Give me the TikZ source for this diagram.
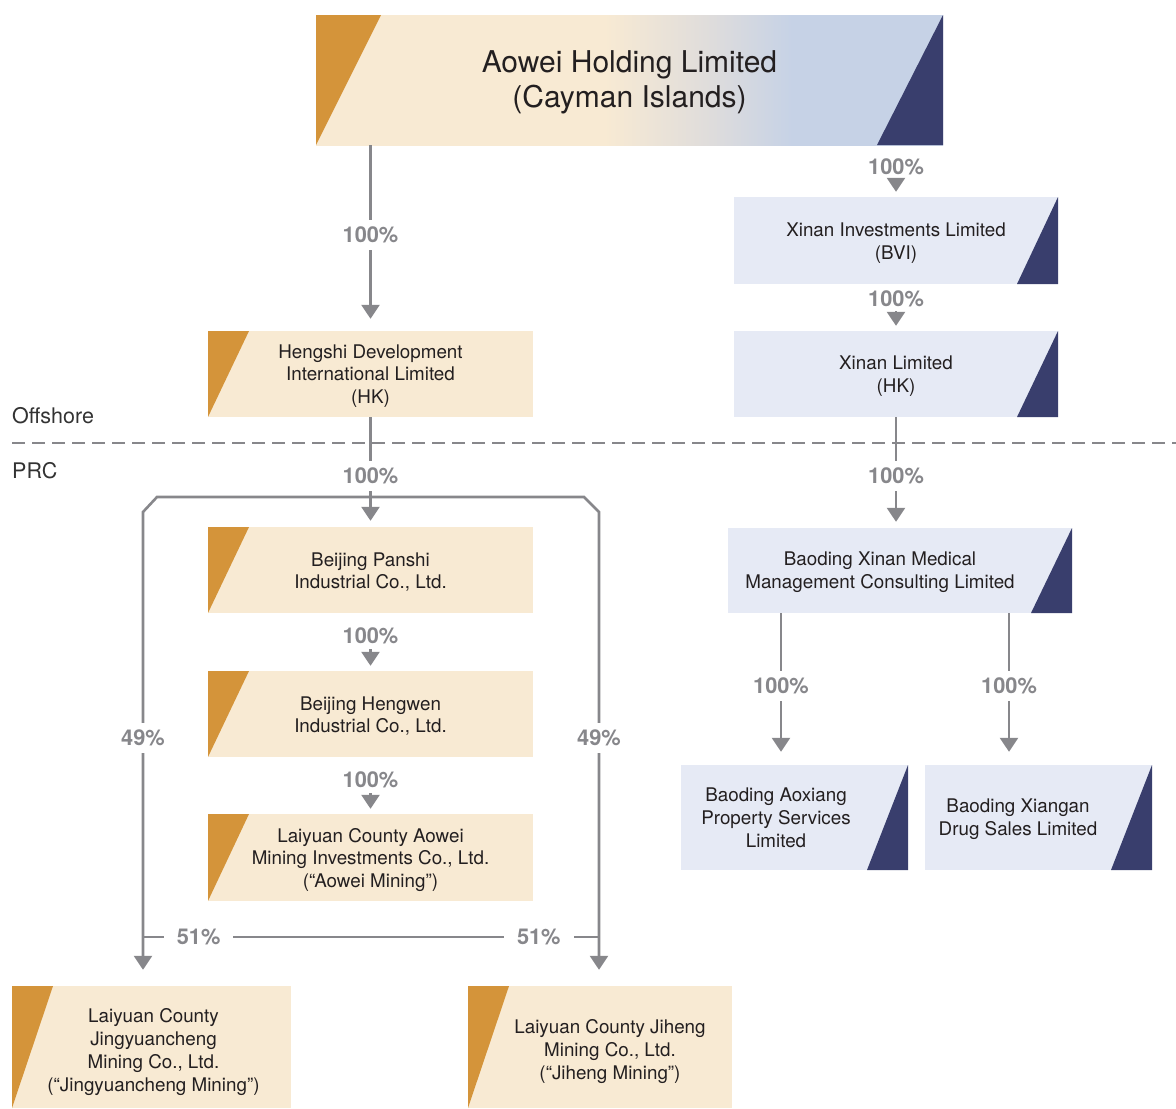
\documentclass[tikz,border=0pt]{standalone}
\usepackage{fontspec}
\setmainfont{TeX Gyre Heros}
\usetikzlibrary{calc,arrows.meta}

\definecolor{goldc}{HTML}{D4943A}
\definecolor{creamc}{HTML}{F8EAD3}
\definecolor{navyc}{HTML}{393E6D}
\definecolor{paleblue}{HTML}{E6EAF5}
\definecolor{topblue}{HTML}{C6D2E6}
\definecolor{midgrey}{HTML}{E0DDDB}
\definecolor{linec}{HTML}{87878B}
\definecolor{inkc}{HTML}{231F20}
\definecolor{zonec}{HTML}{333333}

\pgfdeclarehorizontalshading{aoweigrad}{100bp}{color(0bp)=(creamc); color(48bp)=(creamc); color(56bp)=(midgrey); color(63bp)=(topblue); color(100bp)=(topblue)}

\tikzset{
    boxtxt/.style = {text = inkc, align = center, inner sep = 0pt, yshift = -2pt, font = \fontsize{18.8}{22.8}\selectfont},
    boxsize/.style 2 args = {minimum width = #1pt, minimum height = #2pt},
    company/.style = {inner sep = 0pt},
    goldbox/.style = {company, fill = creamc,
        path picture = {\fill[goldc] (path picture bounding box.north west) -- ++(41pt, 0pt) -- (path picture bounding box.south west) -- cycle;}},
    navybox/.style = {company, fill = paleblue,
        path picture = {\fill[navyc] (path picture bounding box.north east) -- (path picture bounding box.south east) -- ++(-41pt, 0pt) -- cycle;}},
    pct/.style = {fill = white, text = linec, font = \bfseries\fontsize{21.8}{21.8}\selectfont, inner xsep = 13pt, inner ysep = 7pt},
    pcttip/.style = {pct, inner ysep = 2pt},
    conn/.style = {draw = linec, line width = 2.6pt, -{Triangle[width = 18pt, length = 14pt]}, shorten > = 6pt},
    tip/.style = {conn, shorten < = 2pt, shorten > = 5pt},
    bar/.style = {draw = linec, line width = 2.6pt},
    zone/.style = {anchor = west, inner sep = 0pt, text = zonec, font = \fontsize{21.5}{21.5}\selectfont}
}

\begin{document}
\begin{tikzpicture}[x = 1pt, y = -1pt]

        \useasboundingbox (0, 0) rectangle (1176, 1109);

        % offshore / PRC split
        \coordinate (splitL) at (12, 443);
        \coordinate (splitR) at (1176, 443);
        \draw[linec, line width = 2.5pt, dash pattern = on 12.5pt off 7.5pt] (splitL) -- (splitR);
        \node[zone] (offshore) at (12, 415.5) {Offshore};
        \node[zone] (prc) at (12, 471) {PRC};

        % holding company
        \node[company, boxsize = {627}{130}, shading = aoweigrad,
            path picture = {
                \fill[goldc] (path picture bounding box.north west) -- ++(65pt, 0pt) -- (path picture bounding box.south west) -- cycle;
                \fill[navyc] (path picture bounding box.north east) -- (path picture bounding box.south east) -- ++(-66pt, 0pt) -- cycle;
            },
            label = {[boxtxt, name = aoweitxt, font = \fontsize{30}{35}\selectfont]center:{Aowei Holding Limited\\(Cayman Islands)}}] (aowei) at (629.5, 80) {};

        % right branch
        \node[navybox, boxsize = {324}{87},
            label = {[boxtxt, name = xbvitxt, yshift = -0.5pt]center:{Xinan Investments Limited\\(BVI)}}] (xbvi) at (896, 240.5) {};
        \node[navybox, boxsize = {324}{86},
            label = {[boxtxt, name = xhktxt]center:{Xinan Limited\\(HK)}}] (xhk) at (896, 374) {};
        \node[navybox, boxsize = {344}{85},
            label = {[boxtxt, name = bdmedtxt, xshift = -20pt]center:{Baoding Xinan Medical\\Management Consulting Limited}}] (bdmed) at (900, 570.5) {};
        \node[navybox, boxsize = {227}{105},
            label = {[boxtxt, name = aoxiangtxt, xshift = -18.5pt, yshift = 1.5pt]center:{Baoding Aoxiang\\Property Services\\Limited}}] (aoxiang) at (794.5, 817.5) {};
        \node[navybox, boxsize = {227}{105},
            label = {[boxtxt, name = xianganttxt, xshift = -20.5pt]center:{Baoding Xiangan\\Drug Sales Limited}}] (xiangan) at (1038.5, 817.5) {};

        % left branch
        \node[goldbox, boxsize = {325}{86},
            label = {[boxtxt, name = hengshitxt]center:{Hengshi Development\\International Limited\\(HK)}}] (hengshi) at (370.5, 374) {};
        \node[goldbox, boxsize = {325}{86},
            label = {[boxtxt, name = panshitxt]center:{Beijing Panshi\\Industrial Co., Ltd.}}] (panshi) at (370.5, 570) {};
        \node[goldbox, boxsize = {325}{86},
            label = {[boxtxt, name = hengwentxt]center:{Beijing Hengwen\\Industrial Co., Ltd.}}] (hengwen) at (370.5, 714) {};
        \node[goldbox, boxsize = {325}{87},
            label = {[boxtxt, name = aoweimintxt, yshift = -0.5pt]center:{Laiyuan County Aowei\\Mining Investments Co., Ltd.\\(“Aowei Mining”)}}] (aoweimin) at (370.5, 857.5) {};
        \node[goldbox, boxsize = {279}{122},
            label = {[boxtxt, name = jyctxt, xshift = 2pt, yshift = -3pt]center:{Laiyuan County\\Jingyuancheng\\Mining Co., Ltd.\\(“Jingyuancheng Mining”)}}] (jyc) at (151.5, 1047) {};
        \node[goldbox, boxsize = {264}{122},
            label = {[boxtxt, name = jihengtxt, xshift = 10pt, yshift = -2.5pt]center:{Laiyuan County Jiheng\\Mining Co., Ltd.\\(“Jiheng Mining”)}}] (jiheng) at (600, 1047) {};

        % holdings, right
        \node[pcttip] (pc1) at (896, 167) {100\%};
        \draw[tip] (pc1) -- (xbvi);
        \node[pcttip] (pc2) at (896, 299) {100\%};
        \draw[tip] (pc2) -- (xhk);
        \draw[conn] (xhk) -- node[pct, pos = 0.532] (pc3) {100\%} (xhk.south |- bdmed.north);
        \draw[conn, shorten > = 13pt] ([xshift = -13.5pt]aoxiang.north |- bdmed.south) -- node[pct, pos = 0.48] (pc4) {100\%} ([xshift = -13.5pt]aoxiang.north);
        \draw[conn, shorten > = 13pt] ([xshift = -29.5pt]xiangan.north |- bdmed.south) -- node[pct, pos = 0.48] (pc5) {100\%} ([xshift = -29.5pt]xiangan.north);

        % holdings, left
        \draw[conn, shorten > = 12pt] (aowei.south -| hengshi.north) -- node[pct, pos = 0.484] (pl1) {100\%} (hengshi.north);
        \draw[conn] (hengshi) -- node[pct, pos = 0.536] (pl2) {100\%} (panshi);
        \node[pcttip] (pl3) at (370.5, 636) {100\%};
        \draw[tip, shorten < = 3pt] (pl3) -- (hengwen);
        \node[pcttip] (pl4) at (370.5, 780) {100\%};
        \draw[tip, shorten < = 3pt] (pl4) -- (aoweimin);

        % 49% bracket
        \coordinate (brL) at (143, 497);
        \coordinate (brR) at (599, 497);
        \draw[conn, shorten > = 16pt] (panshi.north |- brL) -- ([xshift = 14pt]brL) -- ([yshift = -15pt]brL) -- node[pct, pos = 0.477] (pb1) {49\%} (brL |- jyc.north);
        \draw[conn, shorten > = 16pt] (panshi.north |- brR) -- ([xshift = -15pt]brR) -- ([yshift = -15pt]brR) -- node[pct, pos = 0.477] (pb2) {49\%} (brR |- jiheng.north);

        % 51% bar
        \coordinate (bar51) at (0, 937);
        \draw[bar] (brL |- bar51) -- node[pct, pos = 0.122] (pm1) {51\%} node[pct, pos = 0.868] (pm2) {51\%} (brR |- bar51);

\end{tikzpicture}
\end{document}
